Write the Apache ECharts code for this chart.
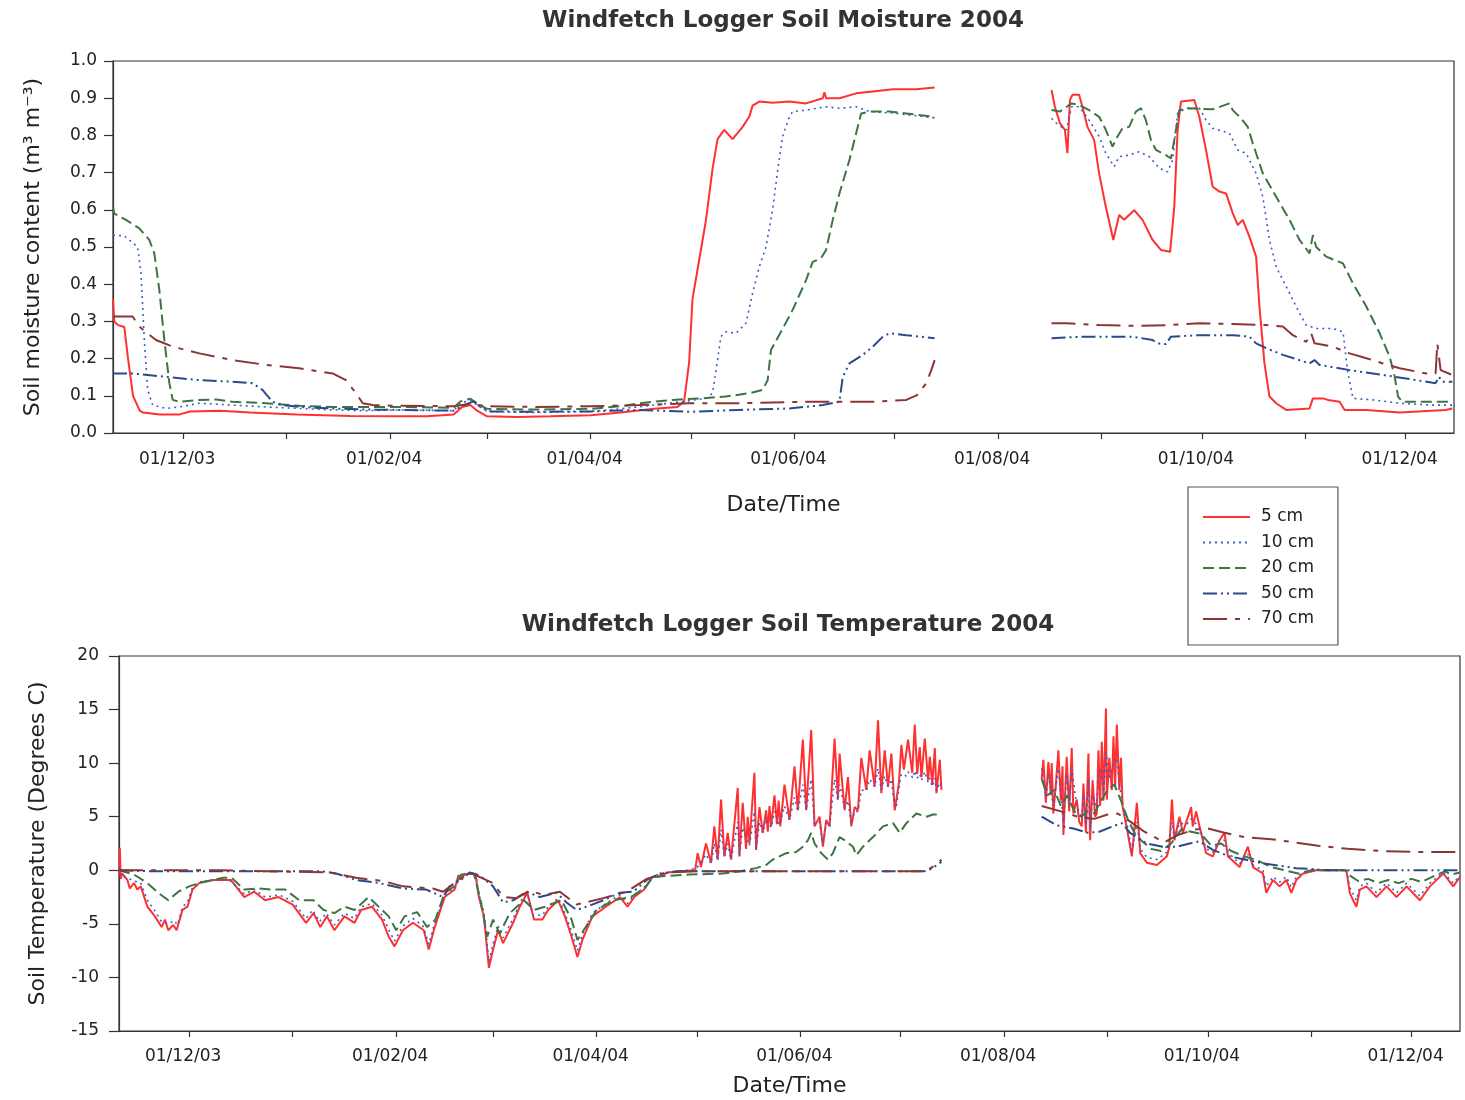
<!DOCTYPE html>
<html>
<head>
<meta charset="utf-8">
<script src="https://cdn.jsdelivr.net/npm/echarts@6/dist/echarts.min.js"></script>
<style>html,body{margin:0;padding:0;background:#fff}#c{width:1465px;height:1100px}</style>
</head>
<body>
<div id="c"></div>
<script>
// ---------- DATA ----------
const seriesNames = ['5 cm', '10 cm', '20 cm', '50 cm', '70 cm'];
const tickDates = ['2003-12-01','2004-01-01','2004-02-01','2004-03-01','2004-04-01','2004-05-01','2004-06-01','2004-07-01','2004-08-01','2004-09-01','2004-10-01','2004-11-01','2004-12-01'];
const labelDates = ['2003-12-01','2004-02-01','2004-04-01','2004-06-01','2004-08-01','2004-10-01','2004-12-01'];
const moistTicks = [0,0.1,0.2,0.3,0.4,0.5,0.6,0.7,0.8,0.9,1.0];
const tempTicks = [-15,-10,-5,0,5,10,15,20];

const moist5 = [
['2003-11-10 00:00',0.36],['2003-11-10 09:00',0.30],['2003-11-11 12:00',0.29],['2003-11-13 09:00',0.285],
['2003-11-14 12:00',0.20],['2003-11-16 00:00',0.10],['2003-11-18 00:00',0.06],['2003-11-19 00:00',0.055],
['2003-11-24 00:00',0.05],['2003-11-30 00:00',0.05],['2003-12-03 00:00',0.058],['2003-12-12 00:00',0.06],
['2003-12-21 00:00',0.055],['2004-01-04 00:00',0.05],['2004-01-20 00:00',0.046],['2004-02-04 00:00',0.045],
['2004-02-12 00:00',0.045],['2004-02-20 00:00',0.05],['2004-02-22 12:00',0.07],['2004-02-25 00:00',0.075],
['2004-02-27 00:00',0.06],['2004-03-01 00:00',0.045],['2004-03-10 00:00',0.043],['2004-03-20 00:00',0.045],
['2004-04-01 00:00',0.048],['2004-04-10 00:00',0.055],['2004-04-20 00:00',0.065],['2004-04-27 00:00',0.07],
['2004-04-29 00:00',0.085],['2004-04-30 12:00',0.19],['2004-05-01 12:00',0.36],['2004-05-03 12:00',0.465],
['2004-05-05 12:00',0.57],['2004-05-07 12:00',0.71],['2004-05-09 00:00',0.79],['2004-05-11 00:00',0.815],
['2004-05-13 12:00',0.79],['2004-05-16 12:00',0.823],['2004-05-18 12:00',0.85],['2004-05-19 12:00',0.88],
['2004-05-21 12:00',0.891],['2004-05-25 12:00',0.888],['2004-05-30 12:00',0.891],['2004-06-04 12:00',0.886],
['2004-06-09 12:00',0.90],['2004-06-10 00:00',0.916],['2004-06-10 12:00',0.90],['2004-06-14 12:00',0.90],
['2004-06-19 12:00',0.913],['2004-06-24 12:00',0.918],['2004-06-30 12:00',0.924],['2004-07-07 12:00',0.924],
['2004-07-13 00:00',0.929],['2004-07-30 00:00',null],
['2004-08-17 00:00',0.922],['2004-08-18 00:00',0.877],['2004-08-19 12:00',0.833],['2004-08-21 00:00',0.815],
['2004-08-21 18:00',0.752],['2004-08-22 12:00',0.895],['2004-08-23 06:00',0.909],['2004-08-25 06:00',0.909],
['2004-08-26 06:00',0.877],['2004-08-27 18:00',0.823],['2004-08-29 18:00',0.788],['2004-08-31 06:00',0.698],
['2004-09-02 06:00',0.608],['2004-09-04 12:00',0.519],['2004-09-06 06:00',0.586],['2004-09-07 18:00',0.573],
['2004-09-10 18:00',0.599],['2004-09-13 06:00',0.573],['2004-09-16 06:00',0.519],['2004-09-18 18:00',0.492],
['2004-09-21 12:00',0.487],['2004-09-22 18:00',0.608],['2004-09-23 18:00',0.815],['2004-09-24 18:00',0.891],
['2004-09-28 18:00',0.895],['2004-09-30 06:00',0.85],['2004-10-02 06:00',0.761],['2004-10-04 06:00',0.662],
['2004-10-06 06:00',0.649],['2004-10-08 06:00',0.644],['2004-10-10 06:00',0.591],['2004-10-11 18:00',0.559],
['2004-10-13 06:00',0.573],['2004-10-15 06:00',0.528],['2004-10-17 06:00',0.474],['2004-10-18 06:00',0.34],
['2004-10-19 18:00',0.187],['2004-10-21 06:00',0.098],['2004-10-23 06:00',0.08],['2004-10-26 06:00',0.062],
['2004-11-02 06:00',0.066],['2004-11-03 06:00',0.093],['2004-11-06 06:00',0.093],['2004-11-07 18:00',0.089],
['2004-11-11 06:00',0.084],['2004-11-12 18:00',0.062],['2004-11-19 06:00',0.062],['2004-11-29 06:00',0.055],
['2004-12-13 00:00',0.062],['2004-12-15 00:00',0.066]
];
const moist10 = [
['2003-11-10 00:00',0.532],['2003-11-13 09:00',0.53],['2003-11-17 09:00',0.50],['2003-11-18 09:00',0.43],
['2003-11-19 09:00',0.25],['2003-11-20 09:00',0.116],['2003-11-21 21:00',0.075],['2003-11-25 21:00',0.066],
['2003-11-29 21:00',0.07],['2003-12-05 21:00',0.08],['2003-12-15 18:00',0.075],['2003-12-25 21:00',0.07],
['2004-01-04 18:00',0.066],['2004-01-14 18:00',0.062],['2004-01-24 18:00',0.06],['2004-02-03 18:00',0.062],
['2004-02-20 00:00',0.06],['2004-02-22 00:00',0.08],['2004-02-25 00:00',0.088],['2004-02-27 00:00',0.075],
['2004-03-01 00:00',0.058],['2004-03-15 00:00',0.055],['2004-04-01 00:00',0.058],['2004-04-10 00:00',0.065],
['2004-04-20 00:00',0.075],['2004-04-29 00:00',0.085],['2004-05-03 00:00',0.09],['2004-05-05 12:00',0.093],
['2004-05-07 12:00',0.107],['2004-05-09 00:00',0.196],['2004-05-10 00:00',0.259],['2004-05-11 12:00',0.272],
['2004-05-14 12:00',0.268],['2004-05-17 12:00',0.295],['2004-05-19 12:00',0.376],['2004-05-21 12:00',0.447],
['2004-05-23 12:00',0.50],['2004-05-25 12:00',0.60],['2004-05-27 00:00',0.707],['2004-05-28 12:00',0.797],
['2004-05-30 12:00',0.85],['2004-05-31 12:00',0.864],['2004-06-04 12:00',0.868],['2004-06-10 12:00',0.877],
['2004-06-14 12:00',0.873],['2004-06-19 12:00',0.877],['2004-06-23 12:00',0.864],['2004-06-30 12:00',0.86],
['2004-07-13 00:00',0.847],['2004-07-30 00:00',null],
['2004-08-17 00:00',0.846],['2004-08-19 00:00',0.828],['2004-08-21 12:00',0.815],['2004-08-23 00:00',0.877],
['2004-08-25 06:00',0.877],['2004-08-28 06:00',0.841],['2004-08-31 06:00',0.797],['2004-09-02 06:00',0.752],
['2004-09-04 18:00',0.716],['2004-09-06 06:00',0.743],['2004-09-09 06:00',0.747],['2004-09-12 06:00',0.756],
['2004-09-15 06:00',0.743],['2004-09-18 06:00',0.712],['2004-09-20 18:00',0.702],['2004-09-22 06:00',0.734],
['2004-09-23 18:00',0.859],['2004-09-26 06:00',0.873],['2004-09-30 06:00',0.873],['2004-10-02 06:00',0.841],
['2004-10-04 06:00',0.819],['2004-10-09 06:00',0.806],['2004-10-11 18:00',0.761],['2004-10-14 06:00',0.752],
['2004-10-17 06:00',0.698],['2004-10-19 06:00',0.635],['2004-10-21 06:00',0.519],['2004-10-23 06:00',0.447],
['2004-10-27 06:00',0.376],['2004-10-30 06:00',0.322],['2004-11-01 06:00',0.29],['2004-11-04 06:00',0.281],
['2004-11-09 06:00',0.281],['2004-11-12 06:00',0.272],['2004-11-13 18:00',0.16],['2004-11-15 06:00',0.093],
['2004-11-21 06:00',0.089],['2004-11-29 06:00',0.08],['2004-12-09 00:00',0.075],['2004-12-15 00:00',0.075]
];
const moist20 = [
['2003-11-10 00:00',0.61],['2003-11-10 09:00',0.59],['2003-11-13 21:00',0.573],['2003-11-17 21:00',0.55],
['2003-11-20 21:00',0.519],['2003-11-22 09:00',0.483],['2003-11-23 21:00',0.384],['2003-11-25 09:00',0.25],
['2003-11-26 21:00',0.134],['2003-11-27 21:00',0.089],['2003-11-29 21:00',0.084],['2003-12-05 21:00',0.089],
['2003-12-10 21:00',0.09],['2003-12-15 18:00',0.084],['2003-12-25 21:00',0.08],['2004-01-04 18:00',0.073],
['2004-01-14 18:00',0.07],['2004-01-24 18:00',0.07],['2004-02-03 18:00',0.07],['2004-02-20 00:00',0.068],
['2004-02-22 00:00',0.085],['2004-02-25 00:00',0.092],['2004-02-27 00:00',0.08],['2004-03-01 00:00',0.065],
['2004-03-15 00:00',0.063],['2004-04-01 00:00',0.065],['2004-04-10 00:00',0.072],['2004-04-15 18:00',0.08],
['2004-04-25 12:00',0.089],['2004-05-03 18:00',0.093],['2004-05-11 12:00',0.098],['2004-05-18 12:00',0.107],
['2004-05-22 12:00',0.116],['2004-05-24 00:00',0.142],['2004-05-25 00:00',0.223],['2004-05-27 18:00',0.268],
['2004-05-31 12:00',0.331],['2004-06-04 12:00',0.411],['2004-06-06 12:00',0.46],['2004-06-09 00:00',0.47],
['2004-06-10 12:00',0.492],['2004-06-12 12:00',0.573],['2004-06-14 12:00',0.644],['2004-06-17 12:00',0.734],
['2004-06-19 12:00',0.806],['2004-06-21 00:00',0.859],['2004-06-23 12:00',0.864],['2004-06-29 12:00',0.864],
['2004-07-04 12:00',0.859],['2004-07-13 00:00',0.85],['2004-07-30 00:00',null],
['2004-08-17 00:00',0.868],['2004-08-19 12:00',0.864],['2004-08-23 00:00',0.886],['2004-08-25 06:00',0.882],
['2004-08-28 06:00',0.868],['2004-08-31 06:00',0.85],['2004-09-02 06:00',0.815],['2004-09-04 06:00',0.77],
['2004-09-05 18:00',0.797],['2004-09-07 06:00',0.819],['2004-09-09 06:00',0.823],['2004-09-11 06:00',0.864],
['2004-09-12 18:00',0.873],['2004-09-14 06:00',0.841],['2004-09-15 18:00',0.788],['2004-09-17 06:00',0.761],
['2004-09-20 06:00',0.747],['2004-09-21 18:00',0.738],['2004-09-22 18:00',0.788],['2004-09-24 06:00',0.868],
['2004-09-27 06:00',0.873],['2004-10-04 06:00',0.87],['2004-10-09 06:00',0.886],['2004-10-10 06:00',0.868],
['2004-10-12 18:00',0.846],['2004-10-14 18:00',0.823],['2004-10-16 06:00',0.779],['2004-10-19 06:00',0.698],
['2004-10-23 06:00',0.635],['2004-10-27 06:00',0.573],['2004-10-30 06:00',0.519],['2004-11-02 06:00',0.483],
['2004-11-03 06:00',0.532],['2004-11-04 06:00',0.50],['2004-11-07 06:00',0.474],['2004-11-12 06:00',0.456],
['2004-11-15 06:00',0.402],['2004-11-19 06:00',0.34],['2004-11-23 06:00',0.268],['2004-11-26 06:00',0.205],
['2004-11-27 18:00',0.151],['2004-11-28 18:00',0.098],['2004-11-30 00:00',0.084],['2004-12-09 00:00',0.084],
['2004-12-15 00:00',0.084]
];
const moist50 = [
['2003-11-10 00:00',0.16],['2003-11-15 21:00',0.16],['2003-11-25 21:00',0.151],['2003-12-05 21:00',0.142],
['2003-12-15 18:00',0.138],['2003-12-21 18:00',0.134],['2003-12-24 18:00',0.116],['2003-12-27 18:00',0.084],
['2003-12-30 18:00',0.075],['2004-01-04 18:00',0.07],['2004-01-14 18:00',0.066],['2004-01-24 18:00',0.063],
['2004-02-03 18:00',0.062],['2004-02-20 00:00',0.06],['2004-02-23 00:00',0.075],['2004-02-26 00:00',0.085],
['2004-02-28 00:00',0.07],['2004-03-02 00:00',0.058],['2004-03-15 00:00',0.057],['2004-04-01 00:00',0.058],
['2004-04-15 18:00',0.062],['2004-04-30 12:00',0.057],['2004-05-15 06:00',0.062],['2004-05-30 12:00',0.066],
['2004-06-09 12:00',0.075],['2004-06-14 12:00',0.084],['2004-06-15 12:00',0.151],['2004-06-17 12:00',0.187],
['2004-06-21 12:00',0.21],['2004-06-24 12:00',0.232],['2004-06-27 12:00',0.259],['2004-06-29 12:00',0.268],
['2004-07-04 12:00',0.263],['2004-07-13 00:00',0.255],['2004-07-30 00:00',null],
['2004-08-17 00:00',0.255],['2004-08-26 06:00',0.259],['2004-09-10 06:00',0.259],['2004-09-16 06:00',0.25],
['2004-09-17 18:00',0.241],['2004-09-20 06:00',0.239],['2004-09-21 18:00',0.259],['2004-09-30 06:00',0.263],
['2004-10-10 06:00',0.263],['2004-10-15 06:00',0.259],['2004-10-17 06:00',0.241],['2004-10-20 06:00',0.228],
['2004-10-25 06:00',0.21],['2004-11-02 06:00',0.187],['2004-11-03 18:00',0.196],['2004-11-05 06:00',0.183],
['2004-11-14 06:00',0.169],['2004-11-24 06:00',0.156],['2004-12-04 06:00',0.142],['2004-12-10 00:00',0.134],
['2004-12-11 00:00',0.151],['2004-12-12 00:00',0.138],['2004-12-15 00:00',0.138]
];
const moist70 = [
['2003-11-10 00:00',0.313],['2003-11-15 21:00',0.313],['2003-11-17 21:00',0.286],['2003-11-22 21:00',0.25],
['2003-11-27 21:00',0.232],['2003-12-05 21:00',0.214],['2003-12-15 18:00',0.196],['2003-12-25 21:00',0.183],
['2004-01-04 18:00',0.174],['2004-01-14 18:00',0.16],['2004-01-18 18:00',0.142],['2004-01-21 18:00',0.107],
['2004-01-23 18:00',0.08],['2004-01-26 18:00',0.075],['2004-02-03 18:00',0.073],['2004-02-20 00:00',0.072],
['2004-02-25 00:00',0.078],['2004-03-01 00:00',0.072],['2004-03-15 00:00',0.07],['2004-04-01 00:00',0.072],
['2004-04-15 18:00',0.075],['2004-04-30 12:00',0.08],['2004-05-15 06:00',0.08],['2004-06-04 12:00',0.084],
['2004-06-24 12:00',0.084],['2004-07-04 12:00',0.089],['2004-07-07 18:00',0.102],['2004-07-10 12:00',0.134],
['2004-07-12 00:00',0.169],['2004-07-13 00:00',0.196],['2004-07-30 00:00',null],
['2004-08-17 00:00',0.295],['2004-08-21 12:00',0.295],['2004-08-31 06:00',0.29],['2004-09-10 06:00',0.288],
['2004-09-20 06:00',0.29],['2004-09-30 06:00',0.295],['2004-10-10 06:00',0.293],['2004-10-20 06:00',0.29],
['2004-10-25 06:00',0.286],['2004-10-28 06:00',0.263],['2004-11-01 06:00',0.245],['2004-11-02 18:00',0.268],
['2004-11-03 18:00',0.241],['2004-11-09 06:00',0.232],['2004-11-14 06:00',0.214],['2004-11-19 06:00',0.201],
['2004-11-24 06:00',0.187],['2004-11-29 06:00',0.174],['2004-12-07 06:00',0.16],['2004-12-10 00:00',0.16],
['2004-12-10 12:00',0.241],['2004-12-11 12:00',0.169],['2004-12-15 00:00',0.156]
];

const temp5 = [
['2003-11-10 00:00',-0.3],['2003-11-10 06:00',2.1],['2003-11-10 12:00',-0.8],['2003-11-11 00:00',-0.3],
['2003-11-12 12:00',-0.9],['2003-11-13 06:00',-1.7],['2003-11-14 12:00',-1.2],['2003-11-15 12:00',-1.8],
['2003-11-16 12:00',-1.5],['2003-11-18 12:00',-3.4],['2003-11-20 18:00',-4.3],['2003-11-22 18:00',-5.3],
['2003-11-23 18:00',-4.6],['2003-11-24 18:00',-5.6],['2003-11-26 06:00',-5.1],['2003-11-27 06:00',-5.6],
['2003-11-29 00:00',-3.7],['2003-11-30 12:00',-3.4],['2003-12-02 00:00',-1.8],['2003-12-04 00:00',-1.2],
['2003-12-08 06:00',-0.9],['2003-12-13 12:00',-0.9],['2003-12-17 12:00',-2.5],['2003-12-20 12:00',-2.0],
['2003-12-23 18:00',-2.8],['2003-12-27 18:00',-2.5],['2004-01-01 00:00',-3.2],['2004-01-05 00:00',-4.9],
['2004-01-07 06:00',-4.0],['2004-01-09 06:00',-5.3],['2004-01-11 06:00',-4.3],['2004-01-13 12:00',-5.6],
['2004-01-16 12:00',-4.3],['2004-01-19 12:00',-4.9],['2004-01-21 12:00',-3.7],['2004-01-24 18:00',-3.4],
['2004-01-27 18:00',-4.6],['2004-01-29 18:00',-6.2],['2004-01-31 12:00',-7.1],['2004-02-03 00:00',-5.6],
['2004-02-06 00:00',-4.9],['2004-02-09 06:00',-5.6],['2004-02-10 18:00',-7.4],['2004-02-12 06:00',-5.6],
['2004-02-15 12:00',-2.5],['2004-02-18 12:00',-1.8],['2004-02-19 12:00',-0.6],['2004-02-22 18:00',-0.3],
['2004-02-24 18:00',-0.4],['2004-02-25 18:00',-2.5],['2004-02-27 06:00',-4.3],['2004-02-28 18:00',-9.1],
['2004-03-01 00:00',-7.4],['2004-03-02 12:00',-5.6],['2004-03-04 00:00',-6.8],['2004-03-07 00:00',-4.9],
['2004-03-09 00:00',-3.4],['2004-03-11 06:00',-2.1],['2004-03-13 06:00',-4.6],['2004-03-15 18:00',-4.6],
['2004-03-17 12:00',-3.7],['2004-03-20 12:00',-2.8],['2004-03-22 12:00',-4.3],['2004-03-24 12:00',-6.2],
['2004-03-26 06:00',-8.1],['2004-03-27 18:00',-6.5],['2004-03-30 18:00',-4.3],['2004-04-03 18:00',-3.4],
['2004-04-08 00:00',-2.5],['2004-04-10 06:00',-3.4],['2004-04-12 06:00',-2.5],['2004-04-15 06:00',-1.8],
['2004-04-17 18:00',-0.6],['2004-04-19 12:00',-0.6],['2004-04-22 12:00',-0.2],['2004-04-26 12:00',-0.1],
['2004-04-30 12:00',0.0],
['2004-05-01 06:00',1.6],['2004-05-02 06:00',0.3],['2004-05-03 18:00',2.5],['2004-05-05 06:00',0.7],
['2004-05-06 06:00',4.1],['2004-05-07 06:00',1.0],['2004-05-08 06:00',6.6],['2004-05-09 06:00',1.3],
['2004-05-10 06:00',3.5],['2004-05-11 06:00',1.0],['2004-05-13 06:00',7.7],['2004-05-13 18:00',1.3],
['2004-05-14 18:00',6.3],['2004-05-15 18:00',2.0],['2004-05-16 06:00',5.0],['2004-05-16 18:00',2.5],
['2004-05-18 06:00',9.1],['2004-05-18 18:00',1.9],['2004-05-19 18:00',5.9],['2004-05-20 18:00',3.5],
['2004-05-21 18:00',5.6],['2004-05-22 06:00',3.6],['2004-05-22 18:00',6.0],['2004-05-23 06:00',4.1],
['2004-05-24 06:00',7.0],['2004-05-25 00:00',4.3],['2004-05-25 12:00',6.5],['2004-05-26 00:00',4.1],
['2004-05-27 06:00',8.0],['2004-05-28 18:00',4.7],['2004-05-30 06:00',9.7],['2004-05-31 06:00',5.6],
['2004-06-01 18:00',12.2],['2004-06-02 18:00',5.6],['2004-06-04 06:00',13.1],['2004-06-05 06:00',4.1],
['2004-06-06 18:00',5.0],['2004-06-07 18:00',2.2],['2004-06-08 18:00',4.7],['2004-06-09 18:00',4.1],
['2004-06-11 06:00',12.3],['2004-06-12 06:00',6.6],['2004-06-12 18:00',10.9],['2004-06-14 06:00',5.6],
['2004-06-15 06:00',8.7],['2004-06-16 06:00',4.1],['2004-06-17 06:00',5.9],['2004-06-18 06:00',5.6],
['2004-06-19 06:00',10.5],['2004-06-20 18:00',7.5],['2004-06-21 18:00',11.2],['2004-06-23 06:00',7.8],
['2004-06-24 06:00',14.0],['2004-06-25 06:00',7.2],['2004-06-26 06:00',11.2],['2004-06-27 06:00',7.8],
['2004-06-28 06:00',10.9],['2004-06-29 06:00',5.6],['2004-06-29 18:00',6.6],['2004-06-30 12:00',8.1],
['2004-07-01 06:00',11.7],['2004-07-02 00:00',9.4],['2004-07-03 06:00',12.2],['2004-07-04 12:00',9.1],
['2004-07-05 06:00',13.6],['2004-07-06 00:00',9.0],['2004-07-06 18:00',11.5],['2004-07-07 06:00',8.7],
['2004-07-08 06:00',12.3],['2004-07-09 06:00',8.4],['2004-07-09 18:00',10.6],['2004-07-10 12:00',8.0],
['2004-07-11 06:00',11.4],['2004-07-11 18:00',7.2],['2004-07-12 18:00',10.3],['2004-07-13 06:00',7.5],
['2004-07-28 00:00',null],
['2004-08-12 06:00',8.5],['2004-08-12 18:00',10.3],['2004-08-13 12:00',6.3],['2004-08-14 06:00',10.1],
['2004-08-15 00:00',7.0],['2004-08-15 06:00',10.0],['2004-08-15 18:00',5.3],['2004-08-16 12:00',8.0],
['2004-08-17 06:00',11.2],['2004-08-18 00:00',6.5],['2004-08-18 12:00',9.7],['2004-08-18 18:00',3.3],
['2004-08-19 18:00',10.6],['2004-08-20 12:00',5.5],['2004-08-21 06:00',11.4],['2004-08-21 18:00',5.3],
['2004-08-22 18:00',6.6],['2004-08-23 12:00',4.5],['2004-08-24 06:00',4.1],['2004-08-24 18:00',8.1],
['2004-08-25 12:00',3.5],['2004-08-26 06:00',10.9],['2004-08-26 18:00',2.8],['2004-08-27 12:00',8.4],
['2004-08-28 06:00',5.0],['2004-08-28 18:00',5.3],['2004-08-29 06:00',11.2],['2004-08-29 18:00',6.0],
['2004-08-30 06:00',12.0],['2004-08-30 18:00',6.5],['2004-08-31 12:00',15.1],['2004-08-31 18:00',6.6],
['2004-09-01 12:00',10.5],['2004-09-02 06:00',7.5],['2004-09-02 18:00',12.5],['2004-09-03 06:00',7.8],
['2004-09-03 18:00',13.6],['2004-09-04 12:00',7.5],['2004-09-05 00:00',10.5],['2004-09-05 12:00',5.9],
['2004-09-07 00:00',3.5],['2004-09-08 06:00',1.3],['2004-09-09 18:00',6.3],['2004-09-10 18:00',1.6],
['2004-09-12 18:00',0.7],['2004-09-15 18:00',0.5],['2004-09-18 18:00',1.3],['2004-09-19 12:00',2.2],
['2004-09-20 06:00',6.6],['2004-09-21 00:00',2.8],['2004-09-22 12:00',5.0],['2004-09-23 12:00',3.5],
['2004-09-24 18:00',4.7],['2004-09-26 00:00',5.9],['2004-09-26 12:00',4.1],['2004-09-27 12:00',5.5],
['2004-09-28 12:00',4.1],['2004-09-30 12:00',1.6],['2004-10-02 12:00',1.3],['2004-10-04 12:00',2.8],
['2004-10-06 00:00',3.5],['2004-10-07 00:00',1.3],['2004-10-10 12:00',0.3],['2004-10-13 00:00',2.2],
['2004-10-14 12:00',0.3],['2004-10-17 12:00',-0.3],['2004-10-18 12:00',-2.1],['2004-10-20 12:00',-0.9],
['2004-10-22 12:00',-1.5],['2004-10-24 12:00',-0.9],['2004-10-26 00:00',-2.1],['2004-10-27 12:00',-0.9],
['2004-10-29 12:00',-0.3],['2004-11-02 12:00',0.0],['2004-11-07 12:00',0.0],['2004-11-11 12:00',0.0],
['2004-11-12 12:00',-2.1],['2004-11-13 12:00',-2.8],['2004-11-14 12:00',-3.4],['2004-11-15 12:00',-1.8],
['2004-11-17 12:00',-1.5],['2004-11-20 12:00',-2.5],['2004-11-23 12:00',-1.5],['2004-11-26 12:00',-2.5],
['2004-11-29 12:00',-1.5],['2004-12-03 12:00',-2.8],['2004-12-06 12:00',-1.5],['2004-12-10 12:00',-0.3],
['2004-12-13 12:00',-1.5],['2004-12-15 12:00',-0.6]
];
const temp10 = [
['2003-11-10 00:00',0.3],['2003-11-10 12:00',-0.5],['2003-11-12 12:00',-0.7],['2003-11-14 12:00',-1.0],
['2003-11-16 12:00',-1.2],['2003-11-18 12:00',-2.8],['2003-11-20 18:00',-3.8],['2003-11-22 18:00',-4.8],
['2003-11-24 18:00',-5.0],['2003-11-26 12:00',-4.7],['2003-11-27 12:00',-5.1],['2003-11-29 00:00',-3.4],
['2003-11-30 12:00',-3.0],['2003-12-02 00:00',-1.6],['2003-12-04 00:00',-1.1],['2003-12-08 00:00',-0.9],
['2003-12-13 00:00',-0.9],['2003-12-17 12:00',-2.2],['2003-12-20 12:00',-1.8],['2003-12-23 18:00',-2.5],
['2003-12-28 00:00',-2.3],['2004-01-01 00:00',-2.9],['2004-01-05 00:00',-4.5],['2004-01-07 00:00',-3.7],
['2004-01-09 00:00',-4.8],['2004-01-11 00:00',-4.0],['2004-01-13 12:00',-5.1],['2004-01-16 12:00',-4.0],
['2004-01-19 12:00',-4.5],['2004-01-21 12:00',-3.4],['2004-01-24 18:00',-3.1],['2004-01-27 18:00',-4.2],
['2004-01-30 00:00',-5.7],['2004-01-31 12:00',-6.6],['2004-02-03 00:00',-5.2],['2004-02-06 00:00',-4.5],
['2004-02-09 00:00',-5.2],['2004-02-10 18:00',-6.9],['2004-02-12 06:00',-5.2],['2004-02-15 12:00',-2.3],
['2004-02-18 12:00',-1.6],['2004-02-19 12:00',-0.5],['2004-02-22 18:00',-0.2],['2004-02-24 18:00',-0.3],
['2004-02-25 18:00',-2.2],['2004-02-27 06:00',-3.9],['2004-02-28 18:00',-8.5],['2004-03-01 00:00',-6.9],
['2004-03-02 12:00',-5.2],['2004-03-04 00:00',-6.3],['2004-03-07 00:00',-4.5],['2004-03-09 00:00',-3.1],
['2004-03-11 00:00',-1.9],['2004-03-13 00:00',-4.2],['2004-03-15 18:00',-4.2],['2004-03-17 12:00',-3.4],
['2004-03-20 12:00',-2.6],['2004-03-22 12:00',-4.0],['2004-03-24 12:00',-5.7],['2004-03-26 06:00',-7.5],
['2004-03-27 18:00',-6.0],['2004-03-30 18:00',-4.0],['2004-04-03 18:00',-3.1],['2004-04-08 00:00',-2.3],
['2004-04-10 06:00',-3.1],['2004-04-12 06:00',-2.3],['2004-04-15 06:00',-1.6],['2004-04-18 00:00',-0.5],
['2004-04-22 00:00',-0.2],['2004-04-28 00:00',0.0],['2004-05-01 00:00',0.2],['2004-05-03 18:00',1.5],
['2004-05-05 06:00',0.6],['2004-05-06 06:00',2.5],['2004-05-07 06:00',0.9],['2004-05-08 06:00',3.8],
['2004-05-09 06:00',1.2],['2004-05-10 06:00',2.5],['2004-05-11 06:00',1.0],['2004-05-13 06:00',4.5],
['2004-05-13 18:00',1.3],['2004-05-14 18:00',4.0],['2004-05-16 18:00',2.3],['2004-05-18 06:00',5.5],
['2004-05-18 18:00',2.0],['2004-05-19 18:00',4.5],['2004-05-20 18:00',3.5],['2004-05-21 18:00',4.8],
['2004-05-23 06:00',4.0],['2004-05-24 06:00',5.5],['2004-05-25 18:00',4.2],['2004-05-27 06:00',6.0],
['2004-05-28 18:00',4.7],['2004-05-30 06:00',6.8],['2004-05-31 06:00',5.5],['2004-06-01 18:00',8.0],
['2004-06-02 18:00',5.6],['2004-06-04 06:00',8.5],['2004-06-05 06:00',4.3],['2004-06-06 18:00',4.5],
['2004-06-07 18:00',2.5],['2004-06-08 18:00',4.4],['2004-06-09 18:00',4.1],['2004-06-11 06:00',8.5],
['2004-06-12 06:00',6.5],['2004-06-12 18:00',8.0],['2004-06-14 06:00',5.8],['2004-06-15 06:00',6.5],
['2004-06-16 06:00',4.3],['2004-06-17 06:00',5.5],['2004-06-18 06:00',5.5],['2004-06-19 06:00',7.5],
['2004-06-20 18:00',7.4],['2004-06-21 18:00',8.5],['2004-06-23 06:00',7.8],['2004-06-24 06:00',9.5],
['2004-06-25 06:00',7.5],['2004-06-26 06:00',8.8],['2004-06-27 06:00',7.8],['2004-06-28 06:00',8.5],
['2004-06-29 06:00',5.8],['2004-06-29 18:00',6.0],['2004-06-30 18:00',8.2],['2004-07-01 06:00',9.0],
['2004-07-02 18:00',8.8],['2004-07-03 06:00',9.2],['2004-07-04 18:00',8.6],['2004-07-05 06:00',9.3],
['2004-07-06 00:00',8.6],['2004-07-06 18:00',9.0],['2004-07-07 06:00',8.4],['2004-07-08 06:00',9.2],
['2004-07-09 06:00',8.2],['2004-07-09 18:00',8.6],['2004-07-10 12:00',7.8],['2004-07-11 06:00',8.6],
['2004-07-11 18:00',7.4],['2004-07-12 18:00',8.2],['2004-07-13 06:00',7.7],
['2004-07-28 00:00',null],
['2004-08-12 06:00',9.5],['2004-08-13 12:00',6.8],['2004-08-14 06:00',9.0],['2004-08-15 18:00',6.0],
['2004-08-17 06:00',9.5],['2004-08-18 18:00',4.5],['2004-08-19 18:00',9.0],['2004-08-20 12:00',6.0],
['2004-08-21 06:00',9.5],['2004-08-22 18:00',6.0],['2004-08-24 06:00',4.8],['2004-08-24 18:00',7.0],
['2004-08-25 12:00',4.2],['2004-08-26 06:00',8.5],['2004-08-26 18:00',3.8],['2004-08-27 12:00',7.0],
['2004-08-28 18:00',5.8],['2004-08-29 06:00',9.0],['2004-08-30 06:00',9.5],['2004-08-30 18:00',7.0],
['2004-08-31 12:00',11.0],['2004-09-01 12:00',8.5],['2004-09-02 18:00',10.0],['2004-09-03 18:00',10.5],
['2004-09-04 12:00',8.0],['2004-09-05 12:00',6.2],['2004-09-07 00:00',4.0],['2004-09-08 06:00',1.8],
['2004-09-09 18:00',4.5],['2004-09-10 18:00',2.0],['2004-09-12 18:00',1.2],['2004-09-15 18:00',1.0],
['2004-09-18 18:00',1.7],['2004-09-20 06:00',4.5],['2004-09-21 00:00',3.0],['2004-09-22 12:00',4.4],
['2004-09-24 18:00',4.3],['2004-09-26 00:00',4.8],['2004-09-28 12:00',4.0],['2004-09-30 12:00',2.0],
['2004-10-02 12:00',1.7],['2004-10-04 12:00',2.8],['2004-10-06 00:00',2.8],['2004-10-07 00:00',1.7],
['2004-10-10 12:00',0.6],['2004-10-13 00:00',1.5],['2004-10-14 12:00',0.5],['2004-10-17 12:00',0.0],
['2004-10-18 12:00',-1.5],['2004-10-20 12:00',-0.6],['2004-10-22 12:00',-1.1],['2004-10-24 12:00',-0.6],
['2004-10-26 00:00',-1.6],['2004-10-27 12:00',-0.6],['2004-10-29 12:00',-0.2],['2004-11-02 12:00',0.0],
['2004-11-11 12:00',0.0],['2004-11-12 12:00',-1.6],['2004-11-14 12:00',-2.8],['2004-11-15 12:00',-1.5],
['2004-11-17 12:00',-1.2],['2004-11-20 12:00',-2.1],['2004-11-23 12:00',-1.2],['2004-11-26 12:00',-2.1],
['2004-11-29 12:00',-1.2],['2004-12-03 12:00',-2.4],['2004-12-06 12:00',-1.2],['2004-12-10 12:00',-0.2],
['2004-12-13 12:00',-1.2],['2004-12-15 12:00',-0.5]
];
const temp20 = [
['2003-11-10 00:00',0.0],['2003-11-14 12:00',-0.4],['2003-11-18 12:00',-1.2],['2003-11-21 18:00',-2.1],
['2003-11-24 18:00',-2.8],['2003-11-27 18:00',-2.0],['2003-12-01 00:00',-1.5],['2003-12-05 00:00',-1.1],
['2003-12-11 06:00',-0.7],['2003-12-13 18:00',-0.7],['2003-12-17 12:00',-1.8],['2003-12-21 18:00',-1.7],
['2003-12-25 18:00',-1.8],['2003-12-29 18:00',-1.8],['2004-01-03 00:00',-2.8],['2004-01-07 06:00',-2.8],
['2004-01-10 06:00',-3.7],['2004-01-13 12:00',-4.0],['2004-01-16 12:00',-3.4],['2004-01-19 12:00',-3.7],
['2004-01-23 18:00',-2.5],['2004-01-25 18:00',-3.1],['2004-01-29 18:00',-4.3],['2004-02-01 00:00',-5.6],
['2004-02-03 12:00',-4.3],['2004-02-07 06:00',-3.9],['2004-02-10 06:00',-5.3],['2004-02-12 18:00',-4.6],
['2004-02-15 12:00',-2.1],['2004-02-18 12:00',-1.5],['2004-02-20 12:00',-0.4],['2004-02-24 06:00',-0.3],
['2004-02-26 06:00',-2.8],['2004-02-28 06:00',-6.2],['2004-03-01 00:00',-4.6],['2004-03-03 00:00',-5.9],
['2004-03-06 00:00',-4.0],['2004-03-10 06:00',-2.8],['2004-03-13 06:00',-3.7],['2004-03-16 12:00',-3.4],
['2004-03-21 12:00',-2.8],['2004-03-24 12:00',-4.6],['2004-03-26 06:00',-6.5],['2004-03-28 18:00',-5.3],
['2004-04-01 00:00',-3.7],['2004-04-06 00:00',-2.8],['2004-04-11 06:00',-2.5],['2004-04-15 06:00',-1.7],
['2004-04-18 00:00',-0.6],['2004-04-28 18:00',-0.4],['2004-05-08 18:00',-0.3],['2004-05-13 18:00',-0.1],
['2004-05-18 18:00',0.2],['2004-05-21 18:00',0.5],['2004-05-23 18:00',1.0],['2004-05-25 18:00',1.3],
['2004-05-27 18:00',1.6],['2004-05-30 18:00',1.7],['2004-06-01 18:00',2.2],['2004-06-03 06:00',2.8],
['2004-06-04 06:00',3.5],['2004-06-05 06:00',2.5],['2004-06-07 06:00',1.6],['2004-06-09 06:00',1.0],
['2004-06-10 18:00',1.6],['2004-06-12 18:00',3.1],['2004-06-14 18:00',2.7],['2004-06-16 18:00',2.2],
['2004-06-17 18:00',1.4],['2004-06-19 18:00',2.2],['2004-06-22 18:00',3.1],['2004-06-25 18:00',4.1],
['2004-06-28 18:00',4.4],['2004-06-30 18:00',3.5],['2004-07-02 18:00',4.4],['2004-07-05 18:00',5.3],
['2004-07-08 18:00',5.0],['2004-07-10 18:00',5.2],['2004-07-13 06:00',5.2],
['2004-07-28 00:00',null],
['2004-08-12 06:00',8.5],['2004-08-14 00:00',7.0],['2004-08-16 00:00',7.5],['2004-08-18 00:00',6.0],
['2004-08-20 00:00',7.0],['2004-08-22 00:00',5.5],['2004-08-24 00:00',5.0],['2004-08-26 00:00',5.5],
['2004-08-28 00:00',5.3],['2004-08-30 00:00',6.5],['2004-09-01 00:00',7.5],['2004-09-03 00:00',8.0],
['2004-09-05 00:00',6.5],['2004-09-07 00:00',4.8],['2004-09-09 00:00',3.5],['2004-09-11 00:00',2.8],
['2004-09-14 00:00',2.0],['2004-09-17 00:00',1.8],['2004-09-20 00:00',2.5],['2004-09-23 00:00',3.8],
['2004-09-26 00:00',3.6],['2004-09-29 00:00',3.4],['2004-10-02 00:00',2.3],['2004-10-05 00:00',2.5],
['2004-10-08 00:00',1.8],['2004-10-12 00:00',1.3],['2004-10-16 00:00',0.9],['2004-10-20 00:00',0.3],
['2004-10-24 00:00',0.0],['2004-10-28 00:00',-0.3],['2004-11-01 00:00',0.0],['2004-11-11 00:00',0.0],
['2004-11-13 00:00',-0.6],['2004-11-15 00:00',-1.0],['2004-11-18 00:00',-0.8],['2004-11-21 00:00',-1.2],
['2004-11-24 00:00',-0.9],['2004-11-27 00:00',-1.2],['2004-12-01 00:00',-0.8],['2004-12-04 00:00',-1.1],
['2004-12-08 00:00',-0.5],['2004-12-11 00:00',-0.1],['2004-12-13 00:00',-0.4],['2004-12-15 12:00',-0.2]
];
const temp50 = [
['2003-11-10 00:00',0.0],['2003-11-20 00:00',-0.1],['2003-12-10 00:00',-0.1],['2004-01-10 00:00',-0.1],
['2004-01-14 00:00',-0.3],['2004-01-20 00:00',-0.9],['2004-01-27 00:00',-1.2],['2004-02-03 00:00',-1.7],
['2004-02-10 00:00',-1.8],['2004-02-15 00:00',-2.5],['2004-02-17 00:00',-1.5],['2004-02-20 00:00',-1.0],
['2004-02-23 00:00',-0.2],['2004-02-26 00:00',-0.5],['2004-03-01 00:00',-1.5],['2004-03-04 00:00',-3.0],
['2004-03-07 00:00',-2.8],['2004-03-11 00:00',-2.0],['2004-03-15 00:00',-2.5],['2004-03-20 00:00',-2.1],
['2004-03-23 00:00',-3.0],['2004-03-26 00:00',-3.7],['2004-03-29 00:00',-3.4],['2004-04-03 00:00',-2.8],
['2004-04-08 00:00',-2.1],['2004-04-12 00:00',-2.0],['2004-04-16 00:00',-0.9],['2004-04-20 00:00',-0.3],
['2004-04-25 00:00',-0.1],['2004-07-08 00:00',-0.1],['2004-07-10 00:00',0.1],['2004-07-12 00:00',0.5],
['2004-07-13 06:00',0.8],['2004-07-28 00:00',null],
['2004-08-12 06:00',5.0],['2004-08-16 18:00',4.2],['2004-08-21 18:00',3.9],['2004-08-26 00:00',3.5],
['2004-08-29 12:00',3.6],['2004-09-02 12:00',4.1],['2004-09-05 06:00',4.4],['2004-09-07 18:00',3.5],
['2004-09-12 18:00',2.5],['2004-09-17 12:00',2.2],['2004-09-21 18:00',2.2],['2004-09-25 12:00',2.5],
['2004-09-28 12:00',2.7],['2004-10-02 12:00',1.9],['2004-10-07 12:00',1.3],['2004-10-17 12:00',0.65],
['2004-10-27 12:00',0.2],['2004-11-06 12:00',0.0],['2004-12-15 12:00',0.0]
];
const temp70 = [
['2003-11-10 00:00',0.0],['2003-12-10 00:00',0.0],['2004-01-12 00:00',-0.2],['2004-01-20 00:00',-0.7],
['2004-01-28 00:00',-1.0],['2004-02-03 00:00',-1.5],['2004-02-12 00:00',-1.7],['2004-02-15 00:00',-2.0],
['2004-02-18 00:00',-1.3],['2004-02-23 00:00',-0.2],['2004-03-01 00:00',-1.2],['2004-03-04 00:00',-2.5],
['2004-03-08 00:00',-2.6],['2004-03-12 00:00',-1.9],['2004-03-16 00:00',-2.3],['2004-03-21 00:00',-2.0],
['2004-03-26 00:00',-3.2],['2004-04-03 00:00',-2.6],['2004-04-10 00:00',-2.0],['2004-04-16 00:00',-0.8],
['2004-04-22 00:00',-0.2],['2004-05-01 00:00',-0.1],['2004-07-07 00:00',-0.1],['2004-07-10 00:00',0.2],
['2004-07-12 00:00',0.6],['2004-07-13 06:00',1.0],['2004-07-28 00:00',null],
['2004-08-12 06:00',6.0],['2004-08-18 00:00',5.5],['2004-08-24 00:00',4.9],['2004-08-28 00:00',4.8],
['2004-09-01 00:00',5.2],['2004-09-04 00:00',5.3],['2004-09-08 00:00',4.5],['2004-09-12 00:00',3.6],
['2004-09-18 00:00',2.6],['2004-09-22 00:00',3.3],['2004-09-27 00:00',3.8],['2004-10-01 00:00',3.9],
['2004-10-06 00:00',3.5],['2004-10-12 00:00',3.1],['2004-10-20 00:00',2.9],['2004-10-27 00:00',2.6],
['2004-11-03 00:00',2.3],['2004-11-12 00:00',2.0],['2004-11-22 00:00',1.8],['2004-12-04 00:00',1.7],
['2004-12-15 12:00',1.7]
];

// ---------- CHART ----------
const FONT = '"DejaVu Sans", Verdana, sans-serif';
const TXT = '#222';
const colors = ['#ff3030', '#3a5fcd', '#3e7442', '#2b4a8a', '#8b3535'];
const dashes = ['solid', [2, 4], [11, 5], [14, 4, 2, 4, 2, 4], [24, 8, 5, 8]];
const widths = [2, 1.6, 2, 2, 2];

// parse 'YYYY-MM-DD' or 'YYYY-MM-DD HH:mm' into a timestamp (local time)
function ts(s) {
  const parts = s.split(' ');
  const d = parts[0].split('-');
  const t = parts[1] ? parts[1].split(':') : ['0', '0'];
  return new Date(+d[0], +d[1] - 1, +d[2], +t[0], +t[1]).getTime();
}
function pad(n) { return (n < 10 ? '0' : '') + n; }
function fmtDate(v) { const d = new Date(v); return pad(d.getDate()) + '/' + pad(d.getMonth() + 1) + '/' + pad(d.getFullYear() % 100); }
function toXY(arr) { return arr.map(p => [ts(p[0]), p[1] === null ? '-' : p[1]]); }

const xMin = ts('2003-11-10 00:00');
const xMax = ts('2004-12-15 12:00');

function xAxisFor(gi, labelMargin, nameGap) {
  return {
    type: 'value', gridIndex: gi, min: xMin, max: xMax, scale: false,
    name: 'Date/Time', nameLocation: 'middle', nameGap: nameGap,
    nameTextStyle: { fontFamily: FONT, fontSize: 22, color: TXT },
    axisLine: { show: true, onZero: false, lineStyle: { color: '#333', width: 1.2 } },
    axisTick: { show: true, inside: false, length: 6, lineStyle: { color: '#333', width: 1.2 }, customValues: tickDates.map(ts) },
    minorTick: { show: false },
    axisLabel: { show: true, margin: labelMargin, fontFamily: FONT, fontSize: 17, color: TXT,
      padding: [0, 12, 0, 0], customValues: labelDates.map(ts), formatter: v => fmtDate(v),
      showMinLabel: true, showMaxLabel: true, hideOverlap: false },
    splitLine: { show: false }
  };
}

const moistData = [moist5, moist10, moist20, moist50, moist70];
const tempData = [temp5, temp10, temp20, temp50, temp70];
const series = [];
[moistData, tempData].forEach((group, gi) => {
  group.forEach((d, i) => {
    series.push({
      name: seriesNames[i], type: 'line', xAxisIndex: gi, yAxisIndex: gi,
      data: toXY(d), showSymbol: false, symbol: 'none', connectNulls: false,
      lineStyle: { color: colors[i], width: widths[i], type: dashes[i] },
      itemStyle: { color: colors[i] },
      emphasis: { disabled: true }, animation: false, z: 2 + i
    });
  });
});

const option = {
  backgroundColor: '#ffffff',
  animation: false,
  textStyle: { fontFamily: FONT },
  graphic: [
    { type: 'text', x: 783, y: 21, style: { text: 'Windfetch Logger Soil Moisture 2004', font: 'bold 23px ' + FONT, fill: '#333', align: 'center', verticalAlign: 'middle' } },
    { type: 'text', x: 788, y: 625, style: { text: 'Windfetch Logger Soil Temperature 2004', font: 'bold 23px ' + FONT, fill: '#333', align: 'center', verticalAlign: 'middle' } }
  ],
  legend: {
    data: seriesNames, orient: 'vertical', left: 1188, top: 487,
    padding: [20, 24, 16, 14], itemGap: 5.5, itemWidth: 47, itemHeight: 14,
    borderColor: '#555', borderWidth: 1.2, backgroundColor: '#fff',
    itemStyle: { color: 'rgba(0,0,0,0)', borderWidth: 0, opacity: 0 },
    textStyle: { fontFamily: FONT, fontSize: 17, color: TXT, lineHeight: 20, padding: [0, 0, 0, 6] },
    selectedMode: false
  },
  grid: [
    { left: 113, top: 61, width: 1341, height: 372, show: true, borderColor: '#333', borderWidth: 1.2, backgroundColor: 'transparent', containLabel: false },
    { left: 119, top: 656, width: 1341, height: 375, show: true, borderColor: '#333', borderWidth: 1.2, backgroundColor: 'transparent', containLabel: false }
  ],
  xAxis: [xAxisFor(0, 18, 61), xAxisFor(1, 17, 44)],
  yAxis: [
    { type: 'value', gridIndex: 0, min: 0, max: 1, interval: 0.1,
      name: 'Soil moisture content (m\u00B3 m\u207B\u00B3)', nameLocation: 'middle', nameGap: 69, nameRotate: 90,
      nameTextStyle: { fontFamily: FONT, fontSize: 22, color: TXT },
      axisLine: { show: true, lineStyle: { color: '#333', width: 1.2 } },
      axisTick: { show: true, length: 9, lineStyle: { color: '#333', width: 1.2 } },
      axisLabel: { margin: 16, fontFamily: FONT, fontSize: 17, color: TXT, formatter: v => v.toFixed(1) },
      splitLine: { show: false } },
    { type: 'value', gridIndex: 1, min: -15, max: 20, interval: 5,
      name: 'Soil Temperature (Degrees C)', nameLocation: 'middle', nameGap: 70, nameRotate: 90,
      nameTextStyle: { fontFamily: FONT, fontSize: 22, color: TXT },
      axisLine: { show: true, lineStyle: { color: '#333', width: 1.2 } },
      axisTick: { show: true, length: 10, lineStyle: { color: '#333', width: 1.2 } },
      axisLabel: { margin: 20, fontFamily: FONT, fontSize: 17, color: TXT },
      splitLine: { show: false } }
  ],
  series: series
};

const chart = echarts.init(document.getElementById('c'), null, { renderer: 'canvas', width: 1465, height: 1100 });
chart.setOption(option);
</script>
</body>
</html>
